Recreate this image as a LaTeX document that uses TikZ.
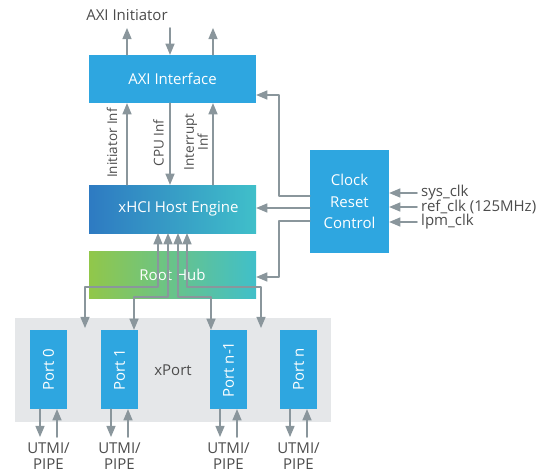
\documentclass[tikz,border=0pt]{standalone}
\usepackage{fontspec}
\setmainfont{Open Sans}
\usetikzlibrary{arrows}
\definecolor{qqaaee}{rgb}{0.18,0.65,0.88}
\definecolor{ggppss}{rgb}{0.54,0.59,0.61}
\definecolor{uuuuuu}{rgb}{0.3,0.3,0.3}
\definecolor{eeeeee}{rgb}{0.9,0.906,0.914}
\definecolor{ccmmtt}{rgb}{0.18,0.48,0.76}
\definecolor{ddbbcc}{rgb}{0.25,0.75,0.79}
\definecolor{nnccdd}{rgb}{0.57,0.78,0.29}

\begin{document}
\begin{tikzpicture}[line cap=round,line join=round,>=triangle 45,x=1pt,y=-1pt,
	box/.style={fill=qqaaee,text=white,inner sep=0pt,font=\fontsize{15}{18}\selectfont},
	wire/.style={color=ggppss,line width=1.6pt},
	lbl/.style={text=uuuuuu,font=\fontsize{15}{16}\selectfont}]
				\useasboundingbox (0,0) rectangle (553,473);
				% blocks
				\node[box,minimum width=167pt,minimum height=48pt] (axi) at (172.5,79) {AXI Interface};
				\node[box,minimum width=167pt,minimum height=48pt,left color=ccmmtt,right color=ddbbcc] (xhci) at (172.5,209) {\hspace*{12pt}xHCI Host Engine};
				\node[box,minimum width=167pt,minimum height=47pt,left color=nnccdd,right color=ddbbcc] (hub) at (172.5,274.5) {Root Hub};
				\node[box,minimum width=79pt,minimum height=103pt,align=center,font=\fontsize{15}{21.5}\selectfont] (clk) at (349.5,201.5) {Clock\\Reset\\Control};
				\node[lbl,fill=eeeeee,minimum width=316pt,minimum height=104pt,inner sep=0pt] (xport) at (173,370) {xPort};
				\foreach \n/\x/\t in {p0/48.5/Port 0,p1/119.5/Port 1,pn1/228.5/Port n-1,pn/298.5/Port n}
				{
				\node[box,minimum width=37pt,minimum height=79pt] (\n) at (\x,369.5) {\rotatebox{90}{\t}};
				\node[lbl,align=center,inner sep=0pt,font=\fontsize{15}{15.5}\selectfont] (\n io) at (\x,456) {UTMI/\\PIPE};
				\draw[->,wire] ([xshift=-8.5pt]\n.south) -- ([xshift=-8.5pt]\n.south |- 0,437);
				\draw[<-,wire] ([xshift=8.5pt]\n.south) -- ([xshift=8.5pt]\n.south |- 0,437);
				}
				% AXI initiator side
				\node[lbl] (init) at (127,15) {AXI Initiator};
				\coordinate (top) at (0,28);
				\draw[->,wire] (axi.north -| 127,0) -- (top -| 127,0);
				\draw[->,wire] (top -| 170,0) -- (axi.north -| 170,0);
				\draw[->,wire] (axi.north -| 213,0) -- (top -| 213,0);
				% AXI <-> xHCI
				\draw[->,wire] (xhci.north -| 127,0) -- (axi.south -| 127,0);
				\draw[->,wire] (axi.south -| 170,0) -- (xhci.north -| 170,0);
				\draw[->,wire] (xhci.north -| 213,0) -- (axi.south -| 213,0);
				\begin{scope}[lbl,font=\fontsize{13.5}{14}\selectfont]
				\node[rotate=90] (iinf) at (112,143) {Initiator Inf};
				\node[rotate=90] (cinf) at (158.5,143) {CPU Inf};
				\node[rotate=90,align=center] (rinf) at (196,142) {Interrupt\\Inf};
				\end{scope}
				% root hub to ports
				\coordinate (g0) at (85,328);
				\coordinate (g3) at (261,328);
				\draw[<->,wire] (xhci.south -| 158,0) -- (158,287) -| (g0);
				\draw[<->,wire] (xhci.south -| 168,0) -- (168,297) -| (p1.north -| 134,0);
				\draw[<->,wire] (xhci.south -| 178,0) -- (178,297) -| (pn1.north -| 211,0);
				\draw[<->,wire] (xhci.south -| 187,0) -- (187,287) -| (g3);
				% clock and reset
				\draw[->,wire] (clk.west |- 0,196) -- (279,196) |- (axi.east |- 0,95);
				\draw[->,wire] (clk.west |- 0,208) -- (xhci.east |- 0,208);
				\draw[->,wire] (clk.west |- 0,221) -- (279,221) |- (hub.east |- 0,277);
				\foreach \y/\t/\n in {193/sys\_clk/sys,207/ref\_clk (125MHz)/ref,222/lpm\_clk/lpm}
				{
				\node[lbl,right,inner sep=4pt] (\n) at (417,\y) {\t};
				\draw[->,wire] (\n.west) -- (clk.east |- \n.west);
				}
\end{tikzpicture}
\end{document}
